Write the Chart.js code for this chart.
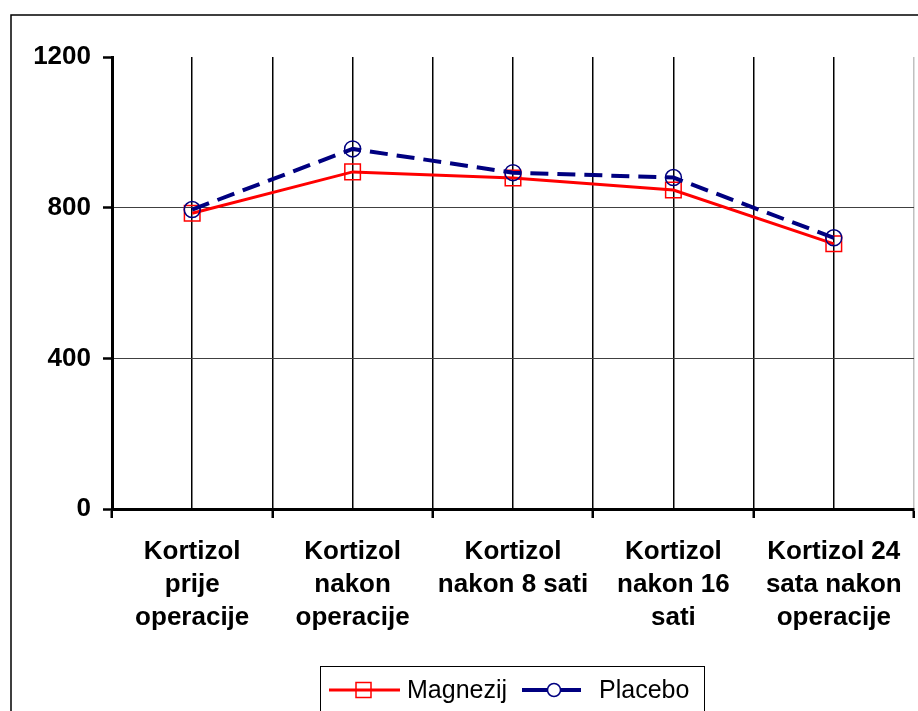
<!DOCTYPE html>
<html>
<head>
<meta charset="utf-8">
<title>Kortizol</title>
<script src="https://cdn.jsdelivr.net/npm/chart.js@4.4.1/dist/chart.umd.min.js"></script>
<style>
    html, body { margin: 0; padding: 0; background: #fff; }
    #wrap { width: 918px; height: 711px; position: relative; }
</style>
</head>
<body>
<div id="wrap"><canvas id="grafKortizol" width="918" height="711"></canvas></div>
<script>
// =========================
// DATOS
// =========================
const kategorije = [
    ["Kortizol", "prije", "operacije"],
    ["Kortizol", "nakon", "operacije"],
    ["Kortizol", "nakon 8 sati"],
    ["Kortizol", "nakon 16", "sati"],
    ["Kortizol 24", "sata nakon", "operacije"]
];
const magnezij = [785, 895, 879, 847, 704];
const placebo  = [795, 956, 893, 880, 720];
const yTicks   = [0, 400, 800, 1200];

const FONT = "'Liberation Sans', Arial, sans-serif";

// okvir oko cijelog grafa (desni i donji rub izlaze van slike)
const okvir = {
    id: 'okvir',
    beforeDraw(chart){
        const ctx = chart.ctx;
        ctx.save();
        ctx.strokeStyle = '#000';
        ctx.lineWidth = 1.5;
        ctx.strokeRect(11, 15, 940, 740);
        ctx.restore();
    }
};

// legenda s linijom i markerom, u okviru
const legenda = {
    id: 'legenda',
    afterDraw(chart){
        const ctx = chart.ctx;
        const ds = chart.data.datasets;
        ctx.save();
        ctx.strokeStyle = '#000';
        ctx.lineWidth = 1;
        ctx.strokeRect(320.5, 666.5, 384, 60);

        const y = 690;
        // Magnezij
        ctx.strokeStyle = ds[0].borderColor;
        ctx.lineWidth = 3;
        ctx.beginPath(); ctx.moveTo(329, y); ctx.lineTo(400, y); ctx.stroke();
        ctx.lineWidth = 1.5;
        ctx.strokeRect(356, y - 7.5, 15, 15);
        // Placebo
        ctx.strokeStyle = ds[1].borderColor;
        ctx.lineWidth = 4;
        ctx.beginPath(); ctx.moveTo(522, y); ctx.lineTo(581, y); ctx.stroke();
        ctx.fillStyle = '#fff';
        ctx.lineWidth = 1.5;
        ctx.beginPath(); ctx.arc(554, y, 6.5, 0, Math.PI * 2); ctx.fill(); ctx.stroke();

        ctx.fillStyle = '#000';
        ctx.font = '25px ' + FONT;
        ctx.textBaseline = 'middle';
        ctx.fillText(ds[0].label, 407, y + 1);
        ctx.fillText(ds[1].label, 599, y + 1);
        ctx.restore();
    }
};

new Chart(document.getElementById('grafKortizol').getContext('2d'), {
    type: 'line',
    data: {
        labels: kategorije,
        datasets: [{
            label: 'Magnezij',
            data: magnezij,
            borderColor: '#ff0000',
            borderWidth: 3,
            pointStyle: 'rect',
            pointRadius: 11,
            pointBorderWidth: 1.5,
            pointBorderColor: '#ff0000',
            pointBackgroundColor: 'transparent',
            tension: 0,
            order: 1
        }, {
            label: 'Placebo',
            data: placebo,
            borderColor: '#000080',
            borderWidth: 4,
            borderDash: [18, 9],
            pointStyle: 'circle',
            pointRadius: 8,
            pointBorderWidth: 1.5,
            pointBorderColor: '#000080',
            pointBackgroundColor: 'transparent',
            tension: 0,
            order: 0
        }]
    },
    options: {
        responsive: false,
        animation: false,
        layout: { autoPadding: false, padding: { left: 0, top: 57, right: 4, bottom: 0 } },
        plugins: {
            legend: { display: false },
            tooltip: { enabled: false }
        },
        scales: {
            x: {
                type: 'category',
                position: 'bottom',
                offset: true,
                grid: {
                    offset: true,
                    color: c => c.type === 'tick' ? '#000' : '#c0c0c0',
                    lineWidth: 1.5,
                    tickLength: 9,
                    tickWidth: 2.5,
                    tickColor: '#000'
                },
                border: { color: '#000', width: 3 },
                ticks: {
                    color: '#000',
                    maxRotation: 0,
                    autoSkip: false,
                    padding: 17,
                    font: { family: FONT, size: 26, weight: 'bold', lineHeight: 1.28 }
                },
                afterFit(s){ s.height = 202; s.paddingLeft = 0; s.paddingRight = 0; }
            },
            x2: {
                type: 'category',
                position: 'top',
                offset: true,
                grid: { offset: false, color: '#000', lineWidth: 1.5, drawTicks: false },
                border: { display: false },
                ticks: { display: false },
                afterFit(s){ s.height = 0; s.paddingLeft = 0; s.paddingRight = 0; }
            },
            y: {
                min: 0,
                max: 1200,
                afterBuildTicks(s){ s.ticks = yTicks.map(v => ({ value: v })); },
                grid: {
                    color: c => (c.tick && (c.tick.value === 400 || c.tick.value === 800)) ? '#404040' : 'rgba(0,0,0,0)',
                    lineWidth: 1,
                    tickLength: 9,
                    tickWidth: 2.5,
                    tickColor: '#000'
                },
                border: { color: '#000', width: 3 },
                ticks: {
                    color: '#000',
                    padding: 12,
                    callback: v => String(v),
                    font: { family: FONT, size: 26, weight: 'bold' }
                },
                afterFit(s){ s.width = 112; s.paddingTop = 0; s.paddingBottom = 0; }
            }
        }
    },
    plugins: [okvir, legenda]
});
</script>
</body>
</html>
